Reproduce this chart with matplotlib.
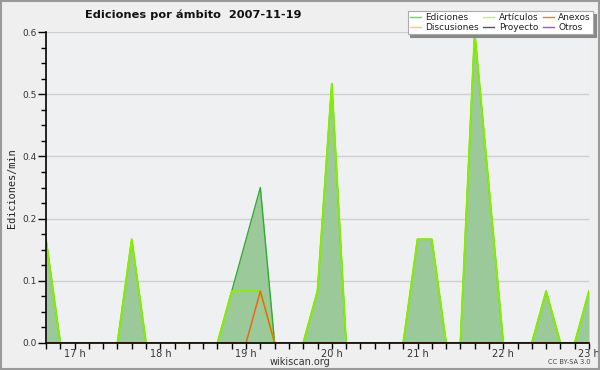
import numpy as np
import matplotlib
matplotlib.use("Agg")
import matplotlib.pyplot as plt
from matplotlib.ticker import MultipleLocator, FormatStrFormatter
from matplotlib.patches import Rectangle

# 10-minute bins from 16:40 to 23:00 (hours as float)
start_hour = 16 + 40 / 60
n_bins = 39
times = [start_hour + i / 6 for i in range(n_bins)]

ediciones = [0.2, 0, 0, 0, 0, 0, 0.2, 0, 0, 0, 0, 0, 0, 0.1, 0.2, 0.3, 0, 0, 0, 0.1,
             0.5, 0, 0, 0, 0, 0, 0.2, 0.2, 0, 0, 0.6, 0.3, 0, 0, 0, 0.1, 0, 0, 0.1]
articulos = [0.2, 0, 0, 0, 0, 0, 0.2, 0, 0, 0, 0, 0, 0, 0.1, 0.1, 0.1, 0, 0, 0, 0.1,
             0.5, 0, 0, 0, 0, 0, 0.2, 0.2, 0, 0, 0.6, 0.3, 0, 0, 0, 0.1, 0, 0, 0.1]
anexos = [0] * 15 + [0.1] + [0] * 23

legend_labels = ["Ediciones", "Discusiones", "Artículos", "Proyecto", "Anexos", "Otros"]
legend_colors = ["#7fc97f", "#ffd24d", "#c6f25a", "#555555", "#f07a3a", "#9b55e6"]
hour_labels = ["17 h", "18 h", "19 h", "20 h", "21 h", "22 h", "23 h"]
hour_ticks = [17, 18, 19, 20, 21, 22, 23]

fig = plt.figure(figsize=(6, 3.7), dpi=100, facecolor="#efefef")
ax = fig.add_axes([46 / 600, 1 - 343 / 370, (589 - 46) / 600, (343 - 32) / 370])
ax.set_facecolor("#eff0f1")

ax.fill_between(times, ediciones, 0, color="#9cc99a", lw=0, zorder=2)
ax.plot(times, ediciones, color="#33aa33", lw=1.0, zorder=3)
ax.plot(times, articulos, color="#88ee00", lw=1.4, zorder=4)
ax.plot(times, anexos, color="#ee6611", lw=1.1, zorder=5)

ax.set_xlim(times[0], times[-1])
ax.set_ylim(0, 0.6)

ax.yaxis.set_major_locator(MultipleLocator(0.12))
ax.yaxis.set_minor_locator(MultipleLocator(0.03))
ax.yaxis.set_major_formatter(FormatStrFormatter("%.1f"))
ax.set_xticks(hour_ticks)
ax.set_xticklabels(hour_labels)
ax.set_xticks(times, minor=True)

ax.grid(axis="y", which="major", color="#cfcfcf", lw=1.0, zorder=1)
for s in ["top", "right"]:
    ax.spines[s].set_visible(False)
for s in ["left", "bottom"]:
    ax.spines[s].set_color("black")
    ax.spines[s].set_linewidth(1.2)
    ax.spines[s].set_zorder(6)

ax.tick_params(axis="y", which="major", length=6, width=1, labelsize=6.5, labelcolor="#333333", pad=1)
ax.tick_params(axis="y", which="minor", length=3.5, width=1)
ax.tick_params(axis="x", which="both", length=4, width=1, labelsize=7, labelcolor="#333333", pad=0.5)

fig.text(85 / 600, 1 - 15 / 370, "Ediciones por ámbito  2007-11-19", fontsize=8.2,
         fontweight="bold", ha="left", va="center", color="#111111")
fig.text(12 / 600, 1 - 188 / 370, "Ediciones/min", rotation=90, fontsize=7.4,
         family="DejaVu Sans Mono", ha="center", va="center", color="#222222")
fig.text(300 / 600, 1 - 362 / 370, "wikiscan.org", fontsize=7, ha="center", va="center", color="#333333")
fig.text(569 / 600, 1 - 362 / 370, "CC BY-SA 3.0", fontsize=4.8, ha="center", va="center", color="#444444")

handles = [plt.Line2D([], [], color=c, lw=1) for c in legend_colors]
leg = fig.legend(handles, legend_labels, ncol=3, loc="upper right",
                 bbox_to_anchor=(593 / 600, 1 - 11 / 370), fontsize=6.5,
                 handlelength=1.2, handletextpad=0.5, columnspacing=0.5,
                 labelspacing=0.1, borderpad=0.25, borderaxespad=0,
                 fancybox=False, shadow={"color": "#888888", "alpha": 1}, framealpha=1,
                 edgecolor="#aaaaaa")
leg.get_frame().set_linewidth(0.8)
for t in leg.get_texts():
    t.set_color("#222222")

fig.patches.append(Rectangle((0.0015, 0.0025), 0.997, 0.995, transform=fig.transFigure,
                             fill=False, edgecolor="#9a9a9a", lw=1.5))

fig.savefig("out.png", dpi=100, facecolor=fig.get_facecolor())
